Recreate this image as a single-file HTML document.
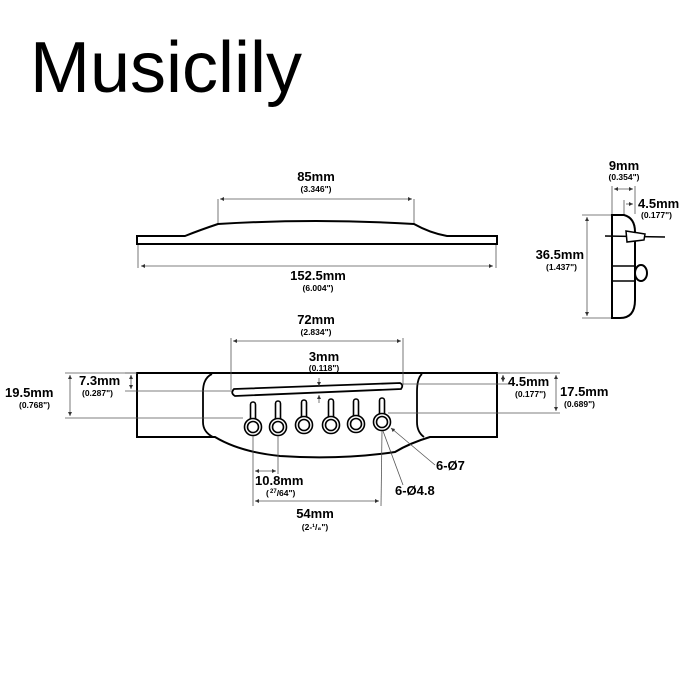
<!DOCTYPE html>
<html><head><style>
body{margin:0;background:#fff;width:700px;height:700px;overflow:hidden}
svg{display:block}
text{font-family:"Liberation Sans",Arial,sans-serif;font-weight:bold;fill:#000}
.t{font-size:13px}
.s{font-size:8.5px}
.d{stroke:#555;stroke-width:0.8;fill:none}
.o{stroke:#000;stroke-width:2;fill:#fff}
</style></head><body>
<svg width="700" height="700" viewBox="0 0 700 700">
<defs>
<marker id="a" viewBox="0 0 6 6" refX="6" refY="3" markerWidth="5" markerHeight="5" orient="auto-start-reverse"><path d="M0,0L6,3L0,6z" fill="#333"/></marker>
</defs>
<text x="30" y="92" style="font-size:72px;font-weight:normal">Musiclily</text>

<!-- top view -->
<path class="o" d="M137,236 L185,236 Q200,230 218,224 Q316,218 414,224 Q430,233 447,236 L497,236 L497,244 L137,244 Z"/>
<line class="d" x1="218" y1="199" x2="218" y2="223"/><line class="d" x1="414" y1="199" x2="414" y2="223"/>
<line class="d" x1="220" y1="199" x2="412" y2="199" marker-start="url(#a)" marker-end="url(#a)"/>
<text class="t" x="316" y="181" text-anchor="middle">85mm</text>
<text class="s" x="316" y="192" text-anchor="middle">(3.346")</text>
<line class="d" x1="138" y1="245" x2="138" y2="268"/><line class="d" x1="496" y1="245" x2="496" y2="268"/>
<line class="d" x1="141" y1="266" x2="493" y2="266" marker-start="url(#a)" marker-end="url(#a)"/>
<text class="t" x="318" y="280" text-anchor="middle">152.5mm</text>
<text class="s" x="318" y="291" text-anchor="middle">(6.004")</text>

<!-- side view -->
<path class="o" d="M612,215 L624,215 Q635,218 635,232 L635,300 Q635,318 620,318 L612,318 Z"/>
<line x1="612" y1="266" x2="635" y2="266" stroke="#000" stroke-width="1.5"/>
<line x1="612" y1="281" x2="635" y2="281" stroke="#000" stroke-width="1.5"/>
<ellipse cx="641" cy="273" rx="6" ry="8" class="o" stroke-width="1.5"/>
<line x1="605" y1="236" x2="665" y2="237" stroke="#000" stroke-width="1.5"/>
<path d="M626,231 L645,234 L644,240 L627,242 Z" fill="#fff" stroke="#000" stroke-width="1.5"/>
<line class="d" x1="612" y1="186" x2="612" y2="214"/><line class="d" x1="635" y1="186" x2="635" y2="214"/>
<line class="d" x1="624" y1="200" x2="624" y2="214"/>
<line class="d" x1="614" y1="189" x2="633" y2="189" marker-start="url(#a)" marker-end="url(#a)"/>
<line class="d" x1="626" y1="204" x2="633" y2="204" marker-end="url(#a)"/>
<text class="t" x="624" y="170" text-anchor="middle">9mm</text>
<text class="s" x="624" y="180" text-anchor="middle">(0.354")</text>
<text class="t" x="638" y="208">4.5mm</text>
<text class="s" x="641" y="218">(0.177")</text>
<line class="d" x1="582" y1="215" x2="611" y2="215"/><line class="d" x1="582" y1="318" x2="611" y2="318"/>
<line class="d" x1="587" y1="217" x2="587" y2="316" marker-start="url(#a)" marker-end="url(#a)"/>
<text class="t" x="584" y="259" text-anchor="end">36.5mm</text>
<text class="s" x="577" y="270" text-anchor="end">(1.437")</text>

<!-- bridge -->
<path class="o" d="M137,373 L497,373 L497,437 L430,437 Q410,443 395,452 Q340,460 280,456 Q240,452 215,437 L137,437 Z"/>
<path d="M212,374 Q203,378 203,392 L203,422 Q203,432 213,437" stroke="#000" stroke-width="1.8" fill="none"/>
<path d="M422,374 Q417,378 417,392 L417,422 Q417,432 424,437" stroke="#000" stroke-width="1.8" fill="none"/>
<path d="M234,389 L400,383 Q404,385 401,389 L235,396 Q230,393 234,389Z" fill="#fff" stroke="#000" stroke-width="1.8"/>
<g stroke="#000" stroke-width="1.6" fill="#fff">
<rect x="250.5" y="402" width="5" height="22" rx="2.5"/><circle cx="253" cy="427" r="8.5"/><circle cx="253" cy="427" r="5.5"/>
<rect x="275.5" y="401" width="5" height="22" rx="2.5"/><circle cx="278" cy="427" r="8.5"/><circle cx="278" cy="427" r="5.5"/>
<rect x="301.5" y="400" width="5" height="22" rx="2.5"/><circle cx="304" cy="425" r="8.5"/><circle cx="304" cy="425" r="5.5"/>
<rect x="328.5" y="399" width="5" height="22" rx="2.5"/><circle cx="331" cy="425" r="8.5"/><circle cx="331" cy="425" r="5.5"/>
<rect x="353.5" y="399" width="5" height="22" rx="2.5"/><circle cx="356" cy="424" r="8.5"/><circle cx="356" cy="424" r="5.5"/>
<rect x="379.5" y="398" width="5" height="22" rx="2.5"/><circle cx="382" cy="422" r="8.5"/><circle cx="382" cy="422" r="5.5"/>
</g>
<!-- bridge dims -->
<line class="d" x1="231" y1="338" x2="231" y2="390"/><line class="d" x1="403" y1="338" x2="403" y2="385"/>
<line class="d" x1="233" y1="341" x2="401" y2="341" marker-start="url(#a)" marker-end="url(#a)"/>
<text class="t" x="316" y="324" text-anchor="middle">72mm</text>
<text class="s" x="316" y="335" text-anchor="middle">(2.834")</text>
<text class="t" x="324" y="361" text-anchor="middle">3mm</text>
<text class="s" x="324" y="371" text-anchor="middle">(0.118")</text>
<line class="d" x1="319" y1="378" x2="319" y2="386" marker-end="url(#a)"/>
<line class="d" x1="319" y1="403" x2="319" y2="395" marker-end="url(#a)"/>
<line class="d" x1="125" y1="373" x2="137" y2="373"/>
<line class="d" x1="125" y1="391" x2="232" y2="391"/>
<line class="d" x1="131" y1="375" x2="131" y2="389" marker-start="url(#a)" marker-end="url(#a)"/>
<text class="t" x="79" y="385">7.3mm</text>
<text class="s" x="82" y="396">(0.287")</text>
<line class="d" x1="65" y1="373" x2="137" y2="373"/>
<line class="d" x1="65" y1="418" x2="243" y2="418"/>
<line class="d" x1="70" y1="375" x2="70" y2="416" marker-start="url(#a)" marker-end="url(#a)"/>
<text class="t" x="5" y="397">19.5mm</text>
<text class="s" x="19" y="408">(0.768")</text>
<line class="d" x1="497" y1="373" x2="510" y2="373"/>
<line class="d" x1="402" y1="384" x2="510" y2="384"/>
<line class="d" x1="503" y1="375" x2="503" y2="382" marker-start="url(#a)" marker-end="url(#a)"/>
<text class="t" x="508" y="386">4.5mm</text>
<text class="s" x="515" y="397">(0.177")</text>
<line class="d" x1="388" y1="413" x2="560" y2="413"/>
<line class="d" x1="497" y1="373" x2="560" y2="373"/>
<line class="d" x1="556" y1="375" x2="556" y2="411" marker-start="url(#a)" marker-end="url(#a)"/>
<text class="t" x="560" y="396">17.5mm</text>
<text class="s" x="564" y="407">(0.689")</text>
<line class="d" x1="253" y1="436" x2="253" y2="506"/><line class="d" x1="278" y1="436" x2="278" y2="474"/>
<line class="d" x1="382" y1="431" x2="381" y2="506"/>
<line class="d" x1="255" y1="471" x2="276" y2="471" marker-start="url(#a)" marker-end="url(#a)"/>
<text class="t" x="255" y="485">10.8mm</text>
<text class="s" x="270" y="496"><tspan font-size="6" dy="-3">27</tspan><tspan dy="3">/64")</tspan></text>
<text class="s" x="266" y="496">(</text>
<line class="d" x1="255" y1="501" x2="379" y2="501" marker-start="url(#a)" marker-end="url(#a)"/>
<text class="t" x="315" y="518" text-anchor="middle">54mm</text>
<text class="s" x="315" y="530" text-anchor="middle">(2-¹/₈")</text>
<line class="d" x1="435" y1="465" x2="391" y2="428" marker-end="url(#a)"/>
<text class="t" x="436" y="470">6-Ø7</text>
<line class="d" x1="403" y1="485" x2="383" y2="431"/>
<text class="t" x="395" y="495">6-Ø4.8</text>
</svg>
</body></html>
